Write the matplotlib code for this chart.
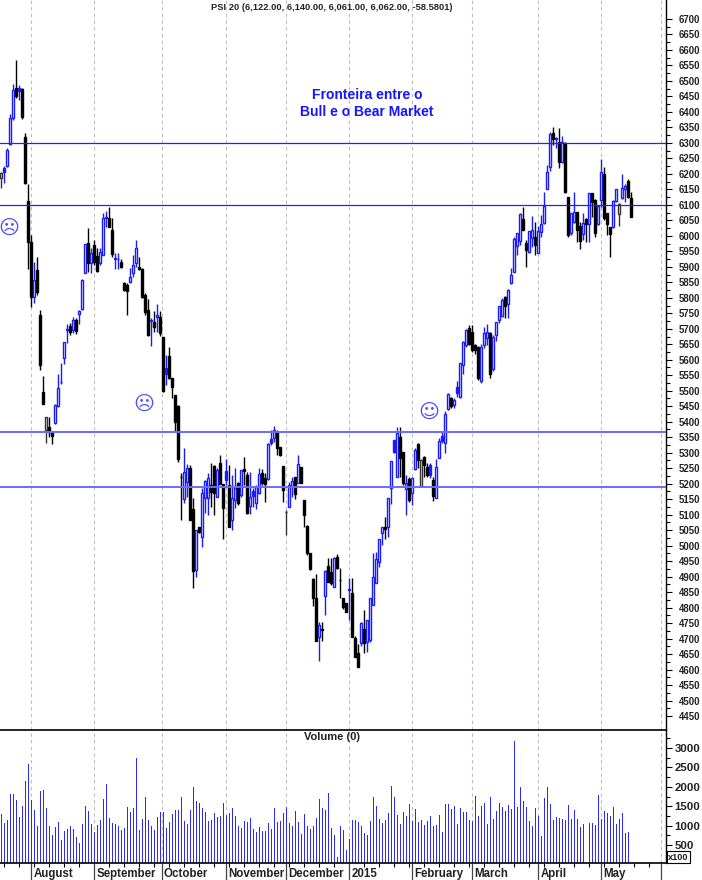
import numpy as np
import matplotlib
matplotlib.use('Agg')
import matplotlib.pyplot as plt

plt.rcParams['font.family'] = ['Liberation Sans', 'DejaVu Sans']

opens = [6186,6205,6226,6295,6379,6476,6468,6473,6320,6111,
         5981,5803,5890,5744,5497,5373,5384,5366,5397,5451,
         5527,5605,5697,5709,5696,5728,5748,5763,5881,5976,
         5911,5970,5935,5911,5938,6056,6056,6019,5926,5926,
         5917,5849,5841,5852,5881,5911,5898,5892,5809,5760,
         5726,5723,5737,5739,5674,5554,5612,5540,5486,5451,
         5223,5149,5206,5250,5117,4921,5061,5027,5153,5153,
         5196,5258,5158,5268,5199,5212,5196,5083,5147,5201,
         5163,5247,5228,5128,5160,5136,5169,5233,5217,5214,
         5332,5346,5368,5317,5257,5110,5126,5192,5223,5201,
         5253,5147,5063,4975,4891,4830,4706,4730,4837,4935,
         4916,4867,4962,4889,4830,4816,4857,4846,4701,4652,
         4685,4730,4690,4695,4808,4878,4948,5040,5061,5061,
         5185,5301,5223,5352,5303,5183,5214,5171,5246,5328,
         5193,5287,5255,5228,5212,5153,5282,5339,5330,5440,
         5477,5455,5493,5480,5583,5647,5701,5691,5647,5642,
         5532,5648,5669,5685,5569,5680,5728,5741,5803,5780,
         5847,5884,5967,5984,6054,5976,5949,5992,5997,5943,
         6013,6040,6152,6223,6333,6314,6304,6237,6301,6124,
         6008,6045,6077,6032,6005,6053,6038,6137,6116,6038,
         6116,6200,6073,6030,6027,6112,6069,6121,6150,6177,
         6122]
highs = [6207,6226,6282,6393,6490,6568,6487,6476,6333,6167,
         6003,5917,5933,5761,5548,5414,5414,5371,5457,5554,
         5589,5658,5717,5720,5737,5734,5761,5860,5973,6024,
         5960,5986,5960,5960,6073,6081,6094,6056,5943,5943,
         5924,5852,5847,5895,5938,5986,5933,5895,5815,5795,
         5735,5758,5780,5758,5675,5615,5642,5540,5486,5454,
         5233,5316,5263,5260,5153,5050,5061,5185,5212,5236,
         5266,5260,5250,5293,5199,5279,5260,5228,5250,5206,
         5244,5285,5239,5239,5185,5196,5250,5246,5233,5330,
         5373,5386,5373,5317,5257,5115,5206,5222,5223,5292,
         5253,5147,5066,4975,4894,4908,4755,4755,4921,4959,
         4959,4962,4973,4927,4830,4816,4894,4897,4708,4682,
         4755,4792,4760,4830,4977,4980,5023,5061,5093,5155,
         5274,5341,5382,5382,5303,5228,5222,5222,5314,5330,
         5280,5289,5266,5266,5222,5279,5346,5368,5435,5492,
         5480,5475,5530,5590,5660,5700,5712,5712,5652,5645,
         5651,5707,5715,5691,5680,5723,5773,5798,5806,5827,
         5895,5997,6010,6075,6092,5987,6016,6064,6046,6032,
         6067,6143,6229,6336,6352,6318,6347,6322,6304,6126,
         6073,6140,6078,6046,6073,6056,6137,6137,6118,6100,
         6247,6223,6073,6030,6116,6152,6105,6200,6167,6183,
         6140]
lows = [6153,6170,6223,6293,6374,6444,6440,6378,6167,5892,
        5771,5784,5809,5567,5457,5330,5350,5328,5393,5449,
        5522,5586,5653,5680,5685,5682,5715,5760,5881,5884,
        5881,5906,5884,5906,5938,6030,6028,5933,5894,5894,
        5895,5823,5745,5849,5868,5900,5890,5798,5745,5678,
        5644,5690,5691,5677,5497,5518,5537,5475,5371,5269,
        5083,5139,5158,5083,4862,4900,5040,4997,5104,5099,
        5126,5099,5156,5199,5023,5196,5061,5050,5120,5131,
        5158,5196,5102,5102,5126,5117,5167,5195,5142,5212,
        5325,5336,5293,5290,5142,5034,5124,5158,5149,5201,
        5203,5060,4970,4921,4805,4693,4629,4693,4776,4884,
        4873,4867,4923,4830,4795,4787,4760,4704,4641,4607,
        4676,4654,4657,4690,4808,4878,4932,5002,5023,5029,
        5134,5298,5223,5223,5196,5099,5142,5131,5244,5250,
        5190,5220,5223,5217,5144,5153,5282,5330,5300,5438,
        5445,5445,5480,5478,5553,5640,5647,5626,5620,5535,
        5524,5637,5647,5540,5565,5662,5720,5739,5734,5734,
        5844,5884,5938,5970,6019,5900,5946,5965,5938,5943,
        5997,6038,6150,6210,6293,6282,6218,6234,6139,5997,
        6003,6040,5981,5956,5987,5981,5981,6060,5997,6035,
        6094,6051,6003,5931,6024,6110,6032,6118,6110,6121,
        6061]
closes = [6202,6218,6277,6379,6471,6451,6476,6385,6172,5981,
          5803,5857,5820,5583,5457,5414,5366,5354,5454,5509,
          5529,5658,5698,5691,5728,5694,5757,5857,5973,5911,
          5943,5917,5888,5949,6056,6062,6030,5941,5927,5926,
          5898,5825,5822,5868,5906,5960,5892,5804,5755,5680,
          5727,5707,5745,5685,5500,5572,5540,5511,5400,5279,
          5222,5239,5250,5083,4919,5050,5043,5171,5209,5217,
          5174,5169,5244,5199,5120,5242,5061,5153,5185,5136,
          5244,5242,5104,5156,5176,5190,5231,5201,5199,5327,
          5343,5373,5314,5293,5180,5110,5196,5210,5167,5263,
          5203,5099,4975,4923,4830,4693,4744,4729,4918,4884,
          4878,4959,4927,4888,4801,4787,4860,4706,4641,4607,
          4749,4687,4760,4830,4898,4956,5023,5061,5055,5155,
          5274,5341,5365,5282,5201,5201,5147,5217,5309,5276,
          5278,5260,5228,5260,5160,5255,5339,5354,5425,5489,
          5451,5470,5512,5588,5657,5696,5651,5631,5631,5540,
          5640,5687,5691,5554,5675,5723,5773,5793,5773,5825,
          5874,5989,6008,6070,6019,5954,6016,6019,5970,6017,
          6037,6096,6206,6329,6311,6315,6239,6304,6143,6003,
          6073,6078,6019,5984,6040,6037,6137,6110,6010,6096,
          6206,6056,6038,6005,6112,6150,6103,6156,6161,6124,
          6062]
volumes = [1310,1070,1140,1810,1810,1650,1220,1500,2140,2580,
           1650,1400,990,1880,1910,1450,990,750,960,1090,
           630,860,910,990,910,700,550,1040,1500,1370,
           1040,830,1010,1140,1680,2060,1190,1060,1040,990,
           880,930,1470,1340,1450,2730,880,1160,1730,1140,
           990,880,1220,1340,1340,930,1090,1290,1400,1400,
           1730,1110,1040,1400,1990,1630,1580,1450,1340,1110,
           1140,1320,1220,1240,1580,1270,1320,1450,1240,990,
           930,1110,1090,1190,910,830,960,860,860,1060,
           910,1450,1090,1110,1320,1470,1060,990,1370,1090,
           780,1290,990,910,990,1190,1680,1450,1400,1830,
           930,750,190,990,880,370,650,
           1140,1140,1090,990,810,750,1110,1730,1500,1160,
           1060,1140,1320,2010,1730,1270,1040,1340,1240,1550,
           1110,1420,1090,1140,1010,1110,1240,990,1010,1270,
           830,1550,1550,1420,1500,1040,1450,1340,1340,1140,
           1110,1760,1240,1500,1580,1040,1730,1160,1370,1580,
           1470,1370,1520,1420,3170,1470,1990,1630,1470,1110,
           990,1450,1240,730,1700,1990,1550,1140,1220,1190,
           1160,1140,1520,1160,1400,1160,960,1040,0,1060,
           1060,1010,1780,1160,1370,1320,1240,1470,1040,1160,
           1320,810,830,0]

price_ticks = list(range(4450, 6750, 50))
volume_ticks = [500, 1000, 1500, 2000, 2500, 3000]
month_names = ['August', 'September', 'October', 'November', 'December', '2015',
               'February', 'March', 'April', 'May', '']
month_pos = [10, 31, 53.5, 75, 95, 116, 137, 157, 179, 200, 220]
levels = [6300, 6100, 5366, 5190]

# candles that the chart draws differently from plain blue up / black down
hollow_black = [0, 15, 95, 140, 206]
solid_blue = [1, 6, 55, 75, 84, 90, 131, 143, 147, 152]

BLUE = '#1a1aff'
W, H = 702, 880
x = np.arange(len(opens))
opens, highs, lows, closes = map(np.array, (opens, highs, lows, closes))

fig = plt.figure(figsize=(W / 100, H / 100), dpi=100)
ax = fig.add_axes([0, (H - 729.7) / H, 666 / W, 729.7 / H])
vol = fig.add_axes([0, (H - 863) / H, 666 / W, 133.3 / H])

for a in (ax, vol):
    a.set_xlim(-0.43, 221.57)
    for s in ('left', 'top'):
        a.spines[s].set_visible(False)
    a.spines['right'].set_linewidth(1.0)
    a.spines['bottom'].set_linewidth(1.2)
    a.yaxis.tick_right()
    for p in month_pos:
        a.axvline(p, color='#bdbdbd', lw=0.8, dashes=(3, 3), zorder=0)
ax.set_zorder(3)
ax.patch.set_alpha(0)

ax.set_ylim(4405.8, 6761.3)
vol.set_ylim(36, 3472)

# candles
up = closes >= opens
edge = np.where(up, BLUE, 'black').astype(object)
face = np.where(up, 'white', 'black').astype(object)
for i in hollow_black:
    edge[i] = '#333333'
    face[i] = 'white'
for i in solid_blue:
    face[i] = BLUE
ax.vlines(x, lows, highs, colors=list(edge), lw=1.0, zorder=2)
ax.bar(x, np.abs(closes - opens), bottom=np.minimum(opens, closes), width=0.72,
       color=list(face), edgecolor=list(edge), linewidth=1.0, zorder=3)

for k, lev in enumerate(levels):
    if k < 2:
        ax.axhline(lev, color='#2020ff', lw=0.9, zorder=4)
    else:
        ax.axhline(lev, color='#6a6aff', lw=1.4, zorder=4)

ax.set_yticks(price_ticks)
ax.set_yticks([p + 25 for p in price_ticks[:-1]], minor=True)
ax.set_yticklabels([str(p) for p in price_ticks], fontsize=6.9, fontweight='bold', color='#222222')
ax.tick_params(axis='y', which='major', length=4, width=0.8, pad=5)
ax.tick_params(axis='y', which='minor', length=3, width=0.8)
ax.set_xticks([])

# smileys
ax.text(2.6, 6025, '\u2639', family='DejaVu Sans', fontsize=14.5, color='#4a4aff', ha='center', va='center', zorder=5)
ax.text(47.6, 5457, '\u2639', family='DejaVu Sans', fontsize=14.5, color='#4a4aff', ha='center', va='center', zorder=5)
ax.text(142.6, 5431, '\u263A', family='DejaVu Sans', fontsize=14.5, color='#4a4aff', ha='center', va='center', zorder=5)

# volume
vol.bar(x, volumes, width=0.4, bottom=0, color='#2a2aff', linewidth=0, zorder=2)
vol.set_yticks(volume_ticks)
vol.set_yticklabels([str(v) for v in volume_ticks], fontsize=8.2, fontweight='bold', color='#222222')
vol.set_yticks([v + 250 for v in volume_ticks], minor=True)
vol.tick_params(axis='y', which='major', length=4, width=0.8, pad=2)
vol.tick_params(axis='y', which='minor', length=3, width=0.8)
vol.set_xticks(month_pos)
vol.set_xticklabels([])
vol.set_xticks(np.arange(1, 220, 5), minor=True)
vol.tick_params(axis='x', which='major', length=12.5, width=0.9, color='#444444')
vol.tick_params(axis='x', which='minor', length=3, width=0.8)

for p, name in zip(month_pos, month_names):
    vol.annotate(name, (p, 0), xycoords=('data', 'axes fraction'), xytext=(1.5, -8), textcoords='offset points',
                 fontsize=8.3, fontweight='bold', color='#222222', va='center', ha='left')

fig.text(332 / W, 1 - 8 / H, 'PSI 20 (6,122.00, 6,140.00, 6,061.00, 6,062.00, -58.5801)',
         fontsize=6.7, fontweight='bold', color='#222222', ha='center', va='center')
fig.text(367 / W, 1 - 95 / H, 'Fronteira entre o', fontsize=10, fontweight='bold', color='#1515ff', ha='center', va='center')
fig.text(367 / W, 1 - 112 / H, 'Bull e o Bear Market', fontsize=10, fontweight='bold', color='#1515ff', ha='center', va='center')
fig.text(332 / W, 1 - 737 / H, 'Volume (0)', fontsize=8, fontweight='bold', color='#222222', ha='center', va='center')
fig.text(678.5 / W, 1 - 857 / H, 'x100', fontsize=6.6, fontweight='bold', color='#222222', ha='center', va='center',
         bbox=dict(boxstyle='square,pad=0.15', fc='white', ec='black', lw=0.8))

fig.savefig('out.png', dpi=100)
